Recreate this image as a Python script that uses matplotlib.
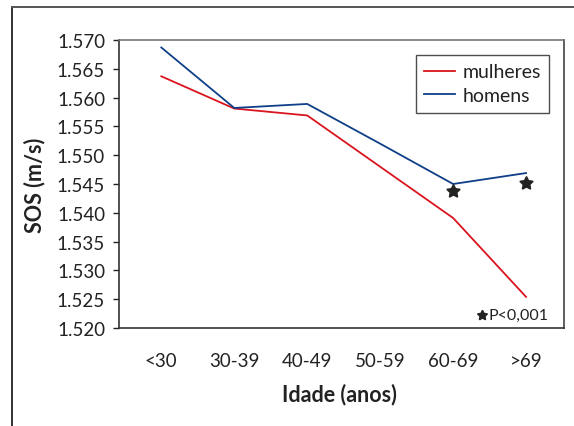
import matplotlib
matplotlib.use("Agg")
import matplotlib.pyplot as plt
from matplotlib.lines import Line2D

categories = ["<30", "30-39", "40-49", "50-59", "60-69", ">69"]
mulheres = [1.5637, 1.5581, 1.5569, 1.5480, 1.5391, 1.5254]
homens = [1.5687, 1.5582, 1.5589, 1.5520, 1.5450, 1.5469]
star_x = [4, 5]
star_y = [1.5437, 1.5451]
yticks = [1.520, 1.525, 1.530, 1.535, 1.540, 1.545, 1.550, 1.555, 1.560, 1.565, 1.570]
ytick_labels = ["1.520", "1.525", "1.530", "1.535", "1.540", "1.545",
                "1.550", "1.555", "1.560", "1.565", "1.570"]

plt.rcParams['font.family'] = ['Lato', 'DejaVu Sans']

W, H = 574, 427
fig = plt.figure(figsize=(W / 100, H / 100), dpi=100)

# outer frame (left and top only visible)
fig.add_artist(Line2D([12 / W, 12 / W], [0, 1 - 8 / H], transform=fig.transFigure,
                      color='#333333', lw=1.4))
fig.add_artist(Line2D([12 / W, 1], [1 - 8 / H, 1 - 8 / H], transform=fig.transFigure,
                      color='#555555', lw=1.4))

ax = fig.add_axes([119 / W, (H - 329) / H, 445 / W, 288 / H])
x = list(range(len(categories)))
ax.plot(x, mulheres, color='#d9141e', lw=1.3, label='mulheres')
ax.plot(x, homens, color='#0f3f88', lw=1.3, label='homens')
ax.plot(star_x, star_y, linestyle='none', marker=(5, 1, 0), markersize=10,
        color='#222222')

ax.set_xlim(-0.58, 5.52)
ax.set_ylim(1.520, 1.570)
ax.set_xticks(x)
ax.set_xticklabels(categories)
ax.set_yticks(yticks)
ax.set_yticklabels(ytick_labels)
ax.tick_params(axis='x', length=0, pad=17, labelsize=13.5, colors='#222222')
ax.tick_params(axis='y', length=4, width=1, pad=6, labelsize=13.5, colors='#222222')
for s in ['left', 'bottom']:
    ax.spines[s].set_color('#333333')
    ax.spines[s].set_linewidth(1.2)
ax.spines['top'].set_color('#777777')
ax.spines['right'].set_color('#444444')
ax.spines['top'].set_linewidth(1.2)
ax.spines['right'].set_linewidth(1.2)

ax.set_ylabel('SOS (m/s)', fontsize=15.5, fontweight='bold', color='#222222', va='center')
ax.set_xlabel('Idade (anos)', fontsize=15.5, fontweight='bold', color='#222222', va='center')
ax.yaxis.set_label_coords(-0.189, 0.5)
ax.xaxis.set_label_coords(0.495, -0.229)

leg = ax.legend(loc='upper right', fontsize=14, frameon=True, fancybox=False,
                edgecolor='#222222', borderaxespad=0.75, handlelength=1.6,
                handletextpad=0.35, labelspacing=0.35, borderpad=0.45)
leg.get_frame().set_linewidth(1.0)
for t in leg.get_texts():
    t.set_color('#222222')

ax.plot([0.815], [0.045], transform=ax.transAxes, marker=(5, 1, 0), markersize=7.5,
        color='#222222', clip_on=False)
ax.text(0.83, 0.045, 'P<0,001', transform=ax.transAxes, fontsize=11.5,
        va='center', ha='left', color='#222222')

fig.savefig('out.png', dpi=100)
